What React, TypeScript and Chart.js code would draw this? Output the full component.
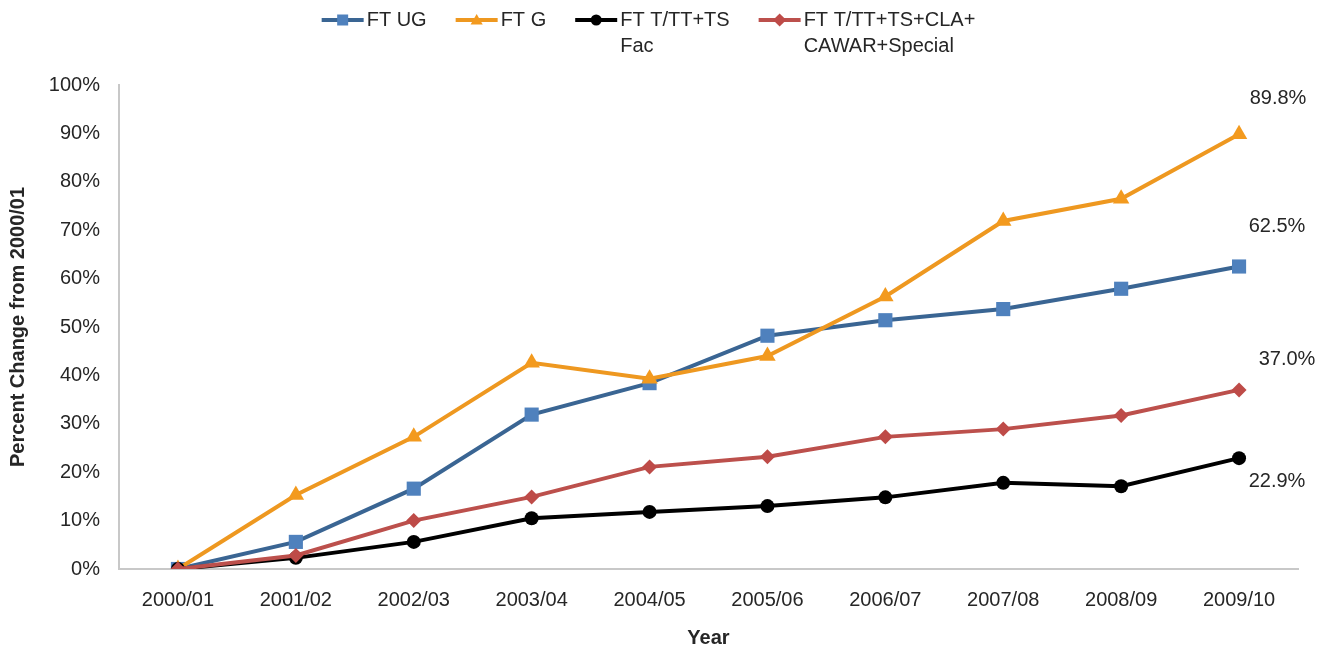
import React, { useEffect, useRef } from "react";
import { Chart, registerables } from "chart.js";

Chart.register(...registerables);

// ---------- data ----------
const categories = [
  "2000/01", "2001/02", "2002/03", "2003/04", "2004/05",
  "2005/06", "2006/07", "2007/08", "2008/09", "2009/10",
];
const ftUG = [0, 5.6, 16.6, 31.9, 38.4, 48.2, 51.4, 53.7, 57.9, 62.5];
const ftG = [0, 15.3, 27.3, 42.6, 39.3, 44.0, 56.3, 71.9, 76.5, 89.8];
const ftFac = [0, 2.3, 5.6, 10.5, 11.8, 13.0, 14.8, 17.8, 17.1, 22.9];
const ftAll = [0, 2.8, 10.0, 14.9, 21.1, 23.2, 27.3, 28.9, 31.7, 37.0];
const seriesLabels = [
  ["FT UG"],
  ["FT G"],
  ["FT T/TT+TS", "Fac"],
  ["FT T/TT+TS+CLA+", "CAWAR+Special"],
];
const endLabels = ["62.5%", "89.8%", "22.9%", "37.0%"];
const yTickValues = [0, 10, 20, 30, 40, 50, 60, 70, 80, 90, 100];

// ---------- styles ----------
const FONT = "'Liberation Sans', Arial, sans-serif";
const TEXT = "#262626";
const lineColors = ["#3A6593", "#EE9820", "#000000", "#BC504C"];
const markerColors = ["#4F81BD", "#F39A1E", "#000000", "#BE4B48"];
const markerStyles = ["rect", "triangle", "circle", "rectRot"];
const markerRadius = [10, 9.5, 7, 7.5];
const endLabelOffsets = [
  [38, -40],
  [39, -36],
  [38, 23],
  [48, -30],
];

function drawMarker(ctx: CanvasRenderingContext2D, style: string, x: number, y: number, s: number, color: string) {
  ctx.save();
  ctx.fillStyle = color;
  ctx.beginPath();
  if (style === "rect") {
    ctx.rect(x - s, y - s, 2 * s, 2 * s);
  } else if (style === "triangle") {
    ctx.moveTo(x, y - s * 1.1);
    ctx.lineTo(x + s * 1.1, y + s * 0.8);
    ctx.lineTo(x - s * 1.1, y + s * 0.8);
    ctx.closePath();
  } else if (style === "circle") {
    ctx.arc(x, y, s, 0, Math.PI * 2);
  } else {
    ctx.moveTo(x, y - s * 1.2);
    ctx.lineTo(x + s * 1.2, y);
    ctx.lineTo(x, y + s * 1.2);
    ctx.lineTo(x - s * 1.2, y);
    ctx.closePath();
  }
  ctx.fill();
  ctx.restore();
}

const legendPlugin = {
  id: "customLegend",
  afterDraw(chart: any) {
    const ctx: CanvasRenderingContext2D = chart.ctx;
    ctx.save();
    ctx.font = `20px ${FONT}`;
    const lineLen = 42;
    const gapText = 3;
    const gapItem = 29;
    const widths = seriesLabels.map((lines) =>
      Math.max(...lines.map((t) => ctx.measureText(t).width))
    );
    const total =
      widths.reduce((a, b) => a + b, 0) +
      seriesLabels.length * (lineLen + gapText) +
      (seriesLabels.length - 1) * gapItem;
    let x = chart.width / 2 - 15 - total / 2;
    const y0 = 20;
    const lh = 26;
    seriesLabels.forEach((lines, i) => {
      ctx.strokeStyle = lineColors[i];
      ctx.lineWidth = 4;
      ctx.beginPath();
      ctx.moveTo(x, y0);
      ctx.lineTo(x + lineLen, y0);
      ctx.stroke();
      drawMarker(ctx, markerStyles[i], x + lineLen / 2, y0, 5.5, markerColors[i]);
      ctx.fillStyle = TEXT;
      ctx.textAlign = "left";
      ctx.textBaseline = "middle";
      lines.forEach((t, k) => {
        ctx.fillText(t, x + lineLen + gapText, y0 + k * lh);
      });
      x += lineLen + gapText + widths[i] + gapItem;
    });
    ctx.restore();
  },
};

const endLabelPlugin = {
  id: "endLabels",
  afterDatasetsDraw(chart: any) {
    const ctx: CanvasRenderingContext2D = chart.ctx;
    ctx.save();
    ctx.font = `20px ${FONT}`;
    ctx.fillStyle = TEXT;
    ctx.textAlign = "center";
    ctx.textBaseline = "middle";
    endLabels.forEach((t, i) => {
      const meta = chart.getDatasetMeta(i);
      const pt = meta.data[meta.data.length - 1];
      ctx.fillText(t, pt.x + endLabelOffsets[i][0], pt.y + endLabelOffsets[i][1]);
    });
    ctx.restore();
  },
};

export default function App() {
  const ref = useRef<HTMLCanvasElement | null>(null);

  useEffect(() => {
    document.body.style.margin = "0";
    const canvas = ref.current;
    if (!canvas) return;
    const seriesData = [ftUG, ftG, ftFac, ftAll];
    const chart = new Chart(canvas, {
      type: "line",
      data: {
        labels: categories,
        datasets: seriesData.map((d, i) => ({
          label: seriesLabels[i].join(" "),
          data: d,
          borderColor: lineColors[i],
          backgroundColor: markerColors[i],
          pointBackgroundColor: markerColors[i],
          pointBorderColor: markerColors[i],
          pointBorderWidth: 0,
          pointStyle: markerStyles[i] as any,
          pointRadius: markerRadius[i],
          borderWidth: 4,
          tension: 0,
          fill: false,
          order: 4 - i,
        })),
      },
      options: {
        responsive: false,
        animation: false,
        layout: { padding: { top: 85, right: 29, left: 0, bottom: 0 } },
        plugins: {
          legend: { display: false },
          tooltip: { enabled: false },
        },
        scales: {
          x: {
            offset: true,
            grid: { display: false, drawTicks: false },
            border: { display: true, color: "#C8C8C8", width: 2 },
            ticks: {
              color: TEXT,
              font: { family: FONT, size: 20 },
              padding: 19,
              maxRotation: 0,
              autoSkip: false,
            },
            title: {
              display: true,
              text: "Year",
              color: TEXT,
              font: { family: FONT, size: 20, weight: "bold" },
              padding: { top: 0, bottom: 2 },
            },
            afterFit(scale: any) {
              scale.height = 83;
            },
          },
          y: {
            min: 0,
            max: 100,
            afterBuildTicks(scale: any) {
              scale.ticks = yTickValues.map((v) => ({ value: v }));
            },
            grid: { display: false, drawTicks: false },
            border: { display: true, color: "#C8C8C8", width: 2 },
            ticks: {
              color: TEXT,
              font: { family: FONT, size: 20 },
              padding: 19,
              callback: (v: any) => `${v}%`,
            },
            title: {
              display: true,
              text: "Percent Change from 2000/01",
              color: TEXT,
              font: { family: FONT, size: 20, weight: "bold" },
              padding: { top: 6, bottom: 0 },
            },
            afterFit(scale: any) {
              scale.width = 119;
            },
          },
        },
      },
      plugins: [legendPlugin, endLabelPlugin],
    });
    return () => chart.destroy();
  }, []);

  return (
    <div style={{ width: 1327, height: 652 }}>
      <canvas ref={ref} width={1327} height={652} style={{ display: "block" }} />
    </div>
  );
}
